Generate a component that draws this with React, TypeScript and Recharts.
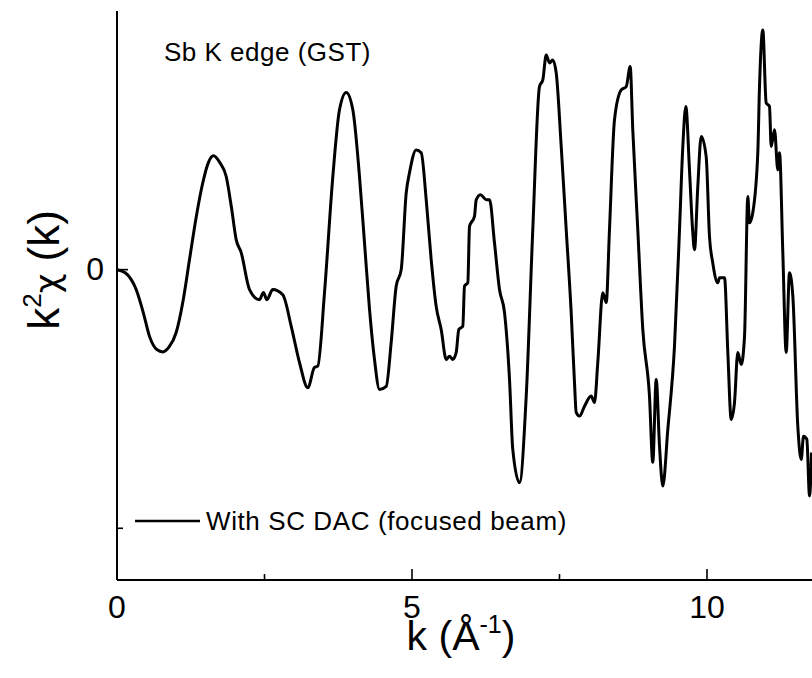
import React from "react";
import { LineChart, Line, XAxis, YAxis } from "recharts";

// k (1/Å) values
const kValues: number[] = [
  0.0, 0.14, 0.325, 0.45, 0.551, 0.68, 0.776, 0.88, 1.003, 1.12, 1.229, 1.34, 1.454, 1.55, 1.636, 1.74, 1.851,
  1.94, 2.02, 2.105, 2.246, 2.415, 2.483, 2.539, 2.641, 2.81, 2.953, 3.093, 3.234, 3.347, 3.403, 3.517, 3.658,
  3.771, 3.885, 3.997, 4.11, 4.195, 4.28, 4.364, 4.449, 4.563, 4.647, 4.732, 4.817, 4.902, 4.958, 5.071, 5.156,
  5.241, 5.325, 5.41, 5.495, 5.58, 5.636, 5.692, 5.749, 5.793, 5.861, 5.89, 5.946, 5.975, 6.059, 6.088, 6.161,
  6.258, 6.314, 6.398, 6.483, 6.568, 6.653, 6.708, 6.822, 6.936, 7.047, 7.161, 7.217, 7.275, 7.331, 7.386, 7.444,
  7.529, 7.614, 7.698, 7.754, 7.783, 7.839, 7.924, 8.037, 8.093, 8.149, 8.234, 8.292, 8.347, 8.432, 8.546, 8.631,
  8.698, 8.742, 8.827, 8.912, 9.025, 9.081, 9.139, 9.195, 9.251, 9.336, 9.449, 9.534, 9.59, 9.641, 9.703, 9.759,
  9.788, 9.844, 9.902, 9.986, 10.042, 10.098, 10.183, 10.212, 10.297, 10.353, 10.41, 10.466, 10.522, 10.58,
  10.636, 10.692, 10.72, 10.776, 10.861, 10.89, 10.946, 11.003, 11.059, 11.088, 11.144, 11.2, 11.229, 11.285,
  11.342, 11.398, 11.455, 11.539, 11.597, 11.636, 11.692, 11.738, 11.772,
];

// k^2 chi(k) values (arbitrary units)
const chiValues: number[] = [
  0.0, -0.012, -0.077, -0.17, -0.258, -0.31, -0.318, -0.3, -0.243, -0.12, 0.039, 0.2, 0.336, 0.415, 0.44, 0.415,
  0.36, 0.24, 0.116, 0.066, -0.077, -0.116, -0.088, -0.116, -0.077, -0.097, -0.219, -0.359, -0.457, -0.378,
  -0.373, -0.089, 0.36, 0.618, 0.685, 0.618, 0.36, 0.104, -0.154, -0.347, -0.463, -0.451, -0.282, -0.064, 0.0,
  0.297, 0.375, 0.463, 0.452, 0.27, 0.039, -0.142, -0.232, -0.347, -0.335, -0.347, -0.32, -0.232, -0.219, -0.064,
  -0.05, 0.167, 0.206, 0.27, 0.29, 0.27, 0.27, 0.104, -0.077, -0.166, -0.425, -0.695, -0.824, -0.489, 0.154, 0.708,
  0.734, 0.83, 0.799, 0.811, 0.761, 0.476, 0.154, -0.166, -0.436, -0.552, -0.566, -0.528, -0.489, -0.514, -0.359,
  -0.089, -0.127, 0.154, 0.579, 0.695, 0.708, 0.785, 0.541, 0.154, -0.232, -0.489, -0.745, -0.425, -0.682, -0.837,
  -0.618, -0.296, 0.154, 0.476, 0.631, 0.386, 0.143, 0.077, 0.322, 0.515, 0.437, 0.129, 0.026, -0.051, -0.031,
  -0.031, -0.32, -0.579, -0.514, -0.32, -0.367, -0.258, 0.283, 0.181, 0.22, 0.452, 0.708, 0.927, 0.645, 0.631,
  0.476, 0.541, 0.386, 0.452, 0.066, -0.32, -0.012, -0.103, -0.605, -0.734, -0.644, -0.656, -0.875, -0.707,
];

const xTicks: number[] = [0, 2.5, 5, 7.5, 10];
const yTicks: number[] = [-1, 0];
const yTickLabels: Record<string, string> = { "0": "0" };

const seriesName = "With SC DAC (focused beam)";
const titleText = "Sb K edge (GST)";

const data = kValues.map((k, i) => ({ k, chi: chiValues[i] }));

const FONT = "'Liberation Sans', Arial, sans-serif";

const BottomTick = (props: any) => {
  const { x, y, payload } = props;
  const v = payload.value as number;
  const major = Number.isInteger(v);
  return (
    <g>
      <line x1={x} x2={x} y1={y} y2={y - (major ? 11 : 6)} stroke="#000" strokeWidth={1.6} />
      {major && (
        <text x={x} y={y + 38} textAnchor="middle" fontSize={32} fontFamily={FONT} fill="#000">
          {v}
        </text>
      )}
    </g>
  );
};

const TopTick = (props: any) => {
  const { x, y, payload } = props;
  const v = payload.value as number;
  const major = Number.isInteger(v);
  return <line x1={x} x2={x} y1={y} y2={y + (major ? 12 : 7)} stroke="#000" strokeWidth={1.6} />;
};

const LeftTick = (props: any) => {
  const { x, y, payload } = props;
  const v = payload.value as number;
  const label = yTickLabels[String(v)];
  const major = label !== undefined;
  return (
    <g>
      <line x1={x} x2={x + (major ? 11 : 6)} y1={y} y2={y} stroke="#000" strokeWidth={1.6} />
      {major && (
        <text x={x - 13} y={y + 10} textAnchor="end" fontSize={32} fontFamily={FONT} fill="#000">
          {label}
        </text>
      )}
    </g>
  );
};

export default function App() {
  return (
    <div
      style={{
        position: "fixed",
        left: 0,
        top: 0,
        width: 812,
        height: 678,
        overflow: "hidden",
        background: "#fff",
      }}
    >
      <div style={{ position: "absolute", left: 0, top: 0 }}>
        <LineChart width={840} height={678} data={data} margin={{ top: 11, right: 15, bottom: 0, left: 0 }}>
          <XAxis
            dataKey="k"
            type="number"
            domain={[0, 12]}
            ticks={xTicks}
            allowDataOverflow
            height={98}
            axisLine={{ stroke: "#000", strokeWidth: 2 }}
            tickLine={false}
            tickSize={0}
            tickMargin={0}
            tick={<BottomTick />}
            interval={0}
          />
          <XAxis
            xAxisId="top"
            orientation="top"
            dataKey="k"
            type="number"
            domain={[0, 12]}
            ticks={xTicks}
            allowDataOverflow
            height={0}
            axisLine={{ stroke: "#000", strokeWidth: 2 }}
            tickLine={false}
            tickSize={0}
            tickMargin={0}
            tick={<TopTick />}
            interval={0}
          />
          <YAxis
            type="number"
            domain={[-1.2, 1]}
            ticks={yTicks}
            allowDataOverflow
            width={117}
            axisLine={{ stroke: "#000", strokeWidth: 2 }}
            tickLine={false}
            tickSize={0}
            tickMargin={0}
            tick={<LeftTick />}
            interval={0}
          />
          <Line
            type="monotoneX"
            dataKey="chi"
            name={seriesName}
            stroke="#000"
            strokeWidth={3}
            strokeLinejoin="round"
            dot={false}
            isAnimationActive={false}
          />
        </LineChart>
      </div>
      <svg
        width={812}
        height={678}
        style={{ position: "absolute", left: 0, top: 0, pointerEvents: "none" }}
      >
        <text x={164} y={61} fontSize={26} letterSpacing={0.5} fontFamily={FONT} fill="#000">
          {titleText}
        </text>
        <line x1={135} x2={200} y1={521} y2={521} stroke="#000" strokeWidth={2.6} />
        <text x={206} y={530} fontSize={26} letterSpacing={0.6} fontFamily={FONT} fill="#000">
          {seriesName}
        </text>
        <text x={461} y={650} textAnchor="middle" fontSize={41} fontFamily={FONT} fill="#000">
          k (Å
          <tspan fontSize={25} dy={-17}>-1</tspan>
          <tspan dy={17}>)</tspan>
        </text>
        <text
          x={59}
          y={270}
          transform="rotate(-90 59 270)"
          textAnchor="middle"
          fontSize={44}
          fontFamily={FONT}
          fill="#000"
        >
          k
          <tspan fontSize={26} dy={-18}>2</tspan>
          <tspan dy={18} fontFamily="'DejaVu Sans', sans-serif" fontSize={34}>χ</tspan>
          <tspan> (k)</tspan>
        </text>
      </svg>
    </div>
  );
}
